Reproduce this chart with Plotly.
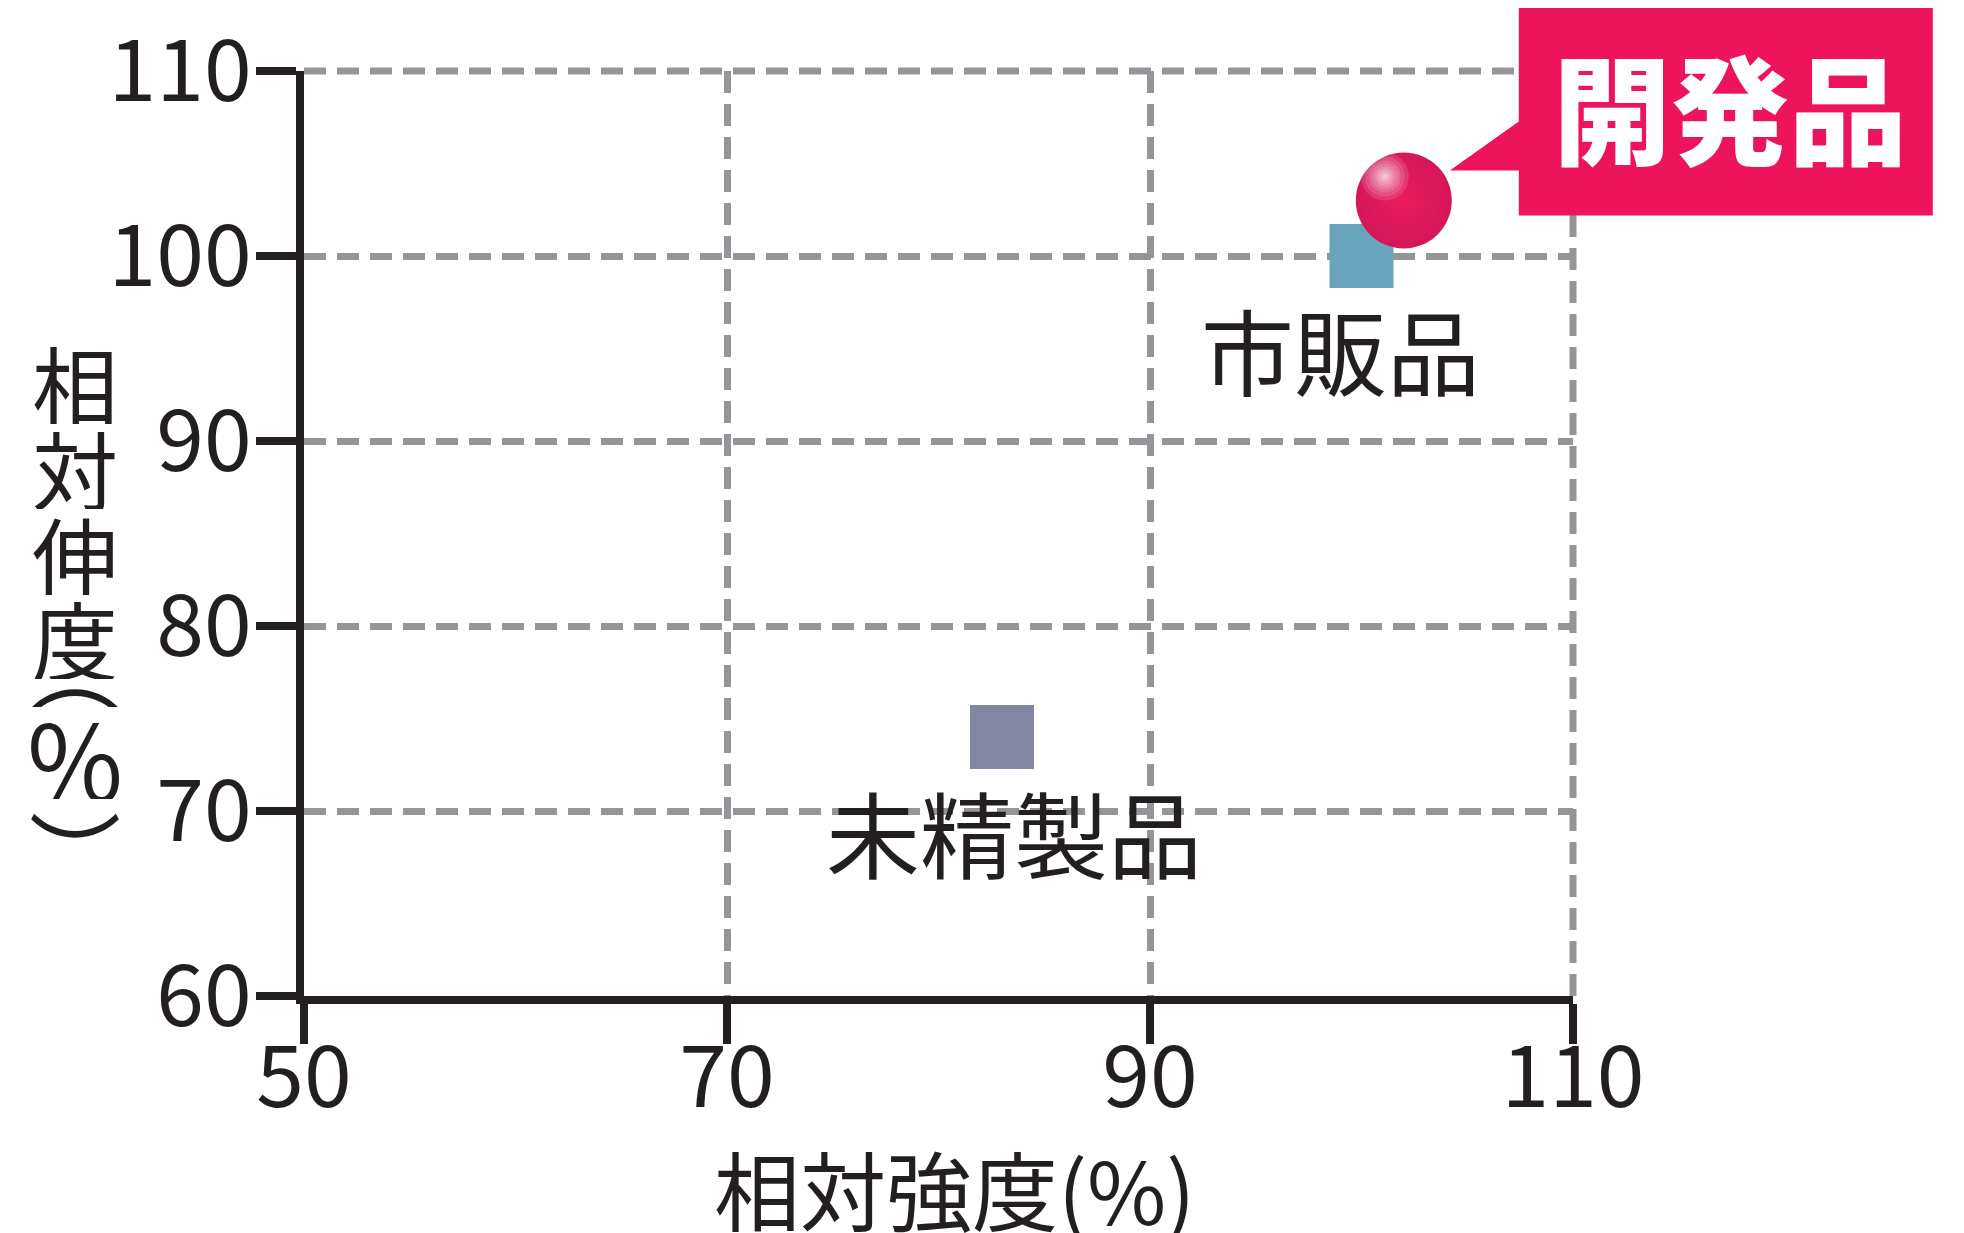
import plotly.graph_objects as go

# ---------------- data ----------------
names = ["未精製品", "市販品", "開発品"]
strength = [83, 100, 102]        # 相対強度 (%)
elongation = [74, 100, 103]      # 相対伸度 (%)
x_ticks = [50, 70, 90, 110]
y_ticks = [60, 70, 80, 90, 100, 110]
x_title = "相対強度(%)"
y_title_chars = ["相", "対", "伸", "度", "︵", "％", "︶"]
callout_text = "開発品"

# ---------------- styles ----------------
X_RANGE = [x_ticks[0], x_ticks[-1]]
Y_RANGE = [y_ticks[0], y_ticks[-1]]
BODY = 8                      # default page margin around the plot div
W, H = 1964 - BODY, 1233 - BODY
PL, PT, PW, PH = 304, 71, 1269, 925   # plot area in screen pixels
ML, MT = PL - BODY, PT - BODY
MR = W - ML - PW
MB = H - MT - PH
INK = "#231f20"
GRID = "#939598"
CJK = "Noto Sans CJK JP"
MAGENTA = "#ee145b"


def py2paper(py):
    return (PT + PH - py) / PH


fig = go.Figure()

fig.add_trace(go.Scatter(
    x=[strength[0]], y=[elongation[0]], mode="markers", name=names[0],
    marker=dict(symbol="square", size=64, color="#8485a3", line=dict(width=0)),
    hoverinfo="skip"))
fig.add_trace(go.Scatter(
    x=[strength[1]], y=[elongation[1]], mode="markers", name=names[1],
    marker=dict(symbol="square", size=64, color="#6aa3bc", line=dict(width=0)),
    hoverinfo="skip"))
fig.add_trace(go.Scatter(
    x=[strength[2]], y=[elongation[2]], mode="markers", name=names[2],
    marker=dict(symbol="circle", size=96, color="#d3175a",
                gradient=dict(type="radial", color="#ec1c5e"),
                line=dict(width=0)),
    hoverinfo="skip"))

# anchor of the 開発品 point as a fraction of the plot area
dev_px = (strength[2] - X_RANGE[0]) / (X_RANGE[1] - X_RANGE[0])
dev_py = (elongation[2] - Y_RANGE[0]) / (Y_RANGE[1] - Y_RANGE[0])

shapes = []
# grid lines at the far ends of the ranges (plotly skips them)
grid_line = dict(color=GRID, width=7, dash="22px,11px")
shapes.append(dict(type="line", xref="paper", yref="paper", x0=0, x1=1, y0=1, y1=1,
                   line=grid_line, layer="below"))
shapes.append(dict(type="line", xref="paper", yref="paper", x0=1, x1=1, y0=0, y1=1,
                   line=grid_line, layer="below"))

# sphere highlight
hx, hy = -19, 24
for r in [24, 20, 16, 13, 10, 8, 6, 4, 3, 2]:
    shapes.append(dict(
        type="circle", xref="paper", yref="paper",
        xsizemode="pixel", ysizemode="pixel",
        xanchor=dev_px, yanchor=dev_py,
        x0=hx - r, x1=hx + r, y0=hy - r, y1=hy + r,
        fillcolor="white", opacity=0.13, line=dict(width=0), layer="above"))

# callout box with pointer (pixel offsets relative to 開発品 point, y up)
pts = [(46, 30), (115, 79), (115, 194), (529, 194), (529, -15), (115, -15), (115, 30)]
path = "M " + " L ".join(f"{a},{b}" for a, b in pts) + " Z"
shapes.append(dict(
    type="path", xref="paper", yref="paper",
    xsizemode="pixel", ysizemode="pixel",
    xanchor=dev_px, yanchor=dev_py,
    path=path, fillcolor=MAGENTA, line=dict(width=0), layer="above"))

annotations = []
annotations.append(dict(
    x=strength[2], y=elongation[2], xref="x", yref="y",
    xshift=326, yshift=96, text=callout_text, showarrow=False,
    font=dict(family=CJK, size=118, color="white", weight=900),
    xanchor="center", yanchor="middle"))
annotations.append(dict(
    x=strength[0], y=elongation[0], xref="x", yref="y",
    xshift=12, yshift=-94, text=names[0], showarrow=False,
    font=dict(family=CJK, size=94, color=INK),
    xanchor="center", yanchor="middle"))
annotations.append(dict(
    x=strength[1], y=elongation[1], xref="x", yref="y",
    xshift=-21, yshift=-92, text=names[1], showarrow=False,
    font=dict(family=CJK, size=93, color=INK),
    xanchor="center", yanchor="middle"))

# x axis title
annotations.append(dict(
    x=0, y=py2paper(1187), xref="paper", yref="paper",
    xshift=954 - PL, text=x_title, showarrow=False,
    font=dict(family=CJK, size=86, color=INK),
    xanchor="center", yanchor="middle"))

# vertical y axis title, one character per row
y_centers = [382, 467, 553, 637, 665, 757, 850]
y_sizes = [86, 86, 86, 86, 92, 104, 92]
for ch, yc, fs in zip(y_title_chars, y_centers, y_sizes):
    annotations.append(dict(
        x=0, y=py2paper(yc), xref="paper", yref="paper",
        xshift=75 - PL, text=ch, showarrow=False, height=84,
        font=dict(family=CJK, size=fs, color=INK),
        xanchor="center", yanchor="middle"))

axis_common = dict(
    showgrid=True, gridcolor=GRID, gridwidth=7, griddash="22px,11px",
    showline=True, linecolor=INK, linewidth=8,
    ticks="outside", ticklen=40, tickwidth=8, tickcolor=INK,
    zeroline=False, fixedrange=True, ticklabeloverflow="allow",
    tickfont=dict(family=CJK, size=86, color=INK),
)

fig.update_layout(
    width=W, height=H,
    margin=dict(l=ML, r=MR, t=MT, b=MB, pad=0, autoexpand=False),
    paper_bgcolor="white", plot_bgcolor="white",
    showlegend=False,
    xaxis=dict(range=X_RANGE, tickvals=x_ticks, ticklabelstandoff=-40, **axis_common),
    yaxis=dict(range=Y_RANGE, tickvals=y_ticks, ticklabelstandoff=-13, **axis_common),
    shapes=shapes, annotations=annotations,
)

fig.write_html("out.html")
